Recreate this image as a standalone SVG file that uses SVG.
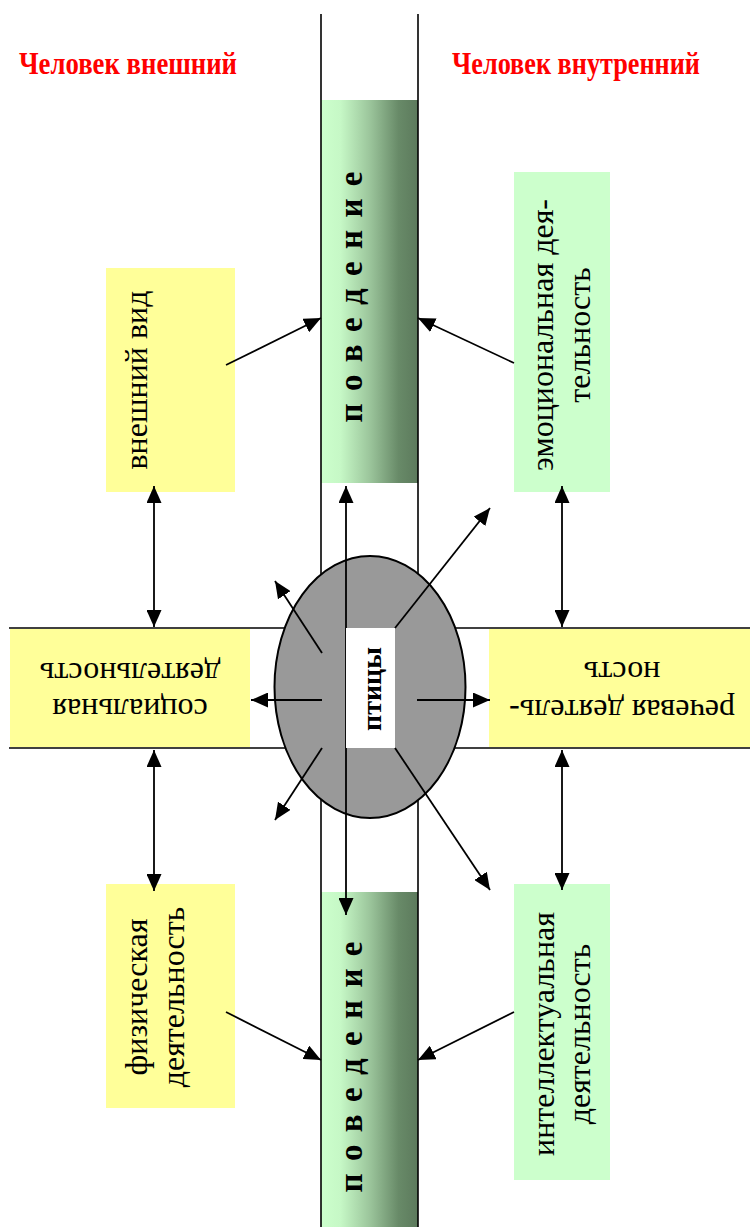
<svg xmlns="http://www.w3.org/2000/svg" width="750" height="1227" viewBox="0 0 750 1227">
<defs>
<linearGradient id="barGrad" x1="0" y1="0" x2="1" y2="0">
<stop offset="0" stop-color="#ccffcc"/>
<stop offset="0.2" stop-color="#c6f8c6"/>
<stop offset="0.5" stop-color="#9cc69c"/>
<stop offset="0.8" stop-color="#688a68"/>
<stop offset="1" stop-color="#5c7a5c"/>
</linearGradient>
<marker id="ah" viewBox="0 0 17 15" refX="17" refY="7.5" markerWidth="17" markerHeight="15" markerUnits="userSpaceOnUse" orient="auto-start-reverse">
<path d="M0,0 L17,7.5 L0,15 Z" fill="#000"/>
</marker>
</defs>
<style>
.ln{stroke:#000;stroke-width:1.6;fill:none}
.ar{stroke:#000;stroke-width:1.8;fill:none;marker-end:url(#ah)}
.ar2{stroke:#000;stroke-width:1.8;fill:none;marker-start:url(#ah);marker-end:url(#ah)}
.title{font-family:"Liberation Serif","DejaVu Serif",serif;font-weight:bold;font-size:31px;fill:#ff0000}
.lbl{font-family:"Liberation Serif","DejaVu Serif",serif;font-size:32px;fill:#000}
.bar{font-family:"Liberation Serif","DejaVu Serif",serif;font-weight:bold;font-size:33px;fill:#000}
.yel{fill:#ffff99}
.grn{fill:#ccffcc}
</style>
<rect width="750" height="1227" fill="#fff"/>

<g id="title-outer"><text class="title" x="19" y="74" textLength="218" lengthAdjust="spacingAndGlyphs">Человек внешний</text></g>
<g id="title-inner"><text class="title" x="452" y="74" textLength="248" lengthAdjust="spacingAndGlyphs">Человек внутренний</text></g>

<g id="behavior-top">
<rect x="321" y="100" width="97" height="383" fill="url(#barGrad)"/>
<text class="bar" transform="translate(362,297) rotate(-90)" text-anchor="middle" textLength="251" lengthAdjust="spacing">п о в е д е н и е</text>
</g>
<g id="behavior-bottom">
<rect x="321" y="892" width="97" height="335" fill="url(#barGrad)"/>
<text class="bar" transform="translate(362,1067) rotate(-90)" text-anchor="middle" textLength="251" lengthAdjust="spacing">п о в е д е н и е</text>
</g>

<g id="guides">
<line class="ln" x1="321" y1="14" x2="321" y2="1227"/>
<line class="ln" x1="418" y1="14" x2="418" y2="1227"/>
<line class="ln" x1="9" y1="628" x2="750" y2="628"/>
<line class="ln" x1="9" y1="748" x2="750" y2="748"/>
</g>

<g id="appearance">
<rect class="yel" x="106" y="268" width="129" height="224"/>
<text class="lbl" transform="translate(147,380) rotate(-90)" text-anchor="middle">внешний вид</text>
</g>
<g id="emotional">
<rect class="grn" x="514" y="172" width="96" height="320"/>
<text class="lbl" transform="translate(553,335) rotate(-90)" text-anchor="middle">эмоциональная дея-</text>
<text class="lbl" transform="translate(590,335) rotate(-90)" text-anchor="middle">тельность</text>
</g>
<g id="physical">
<rect class="yel" x="106" y="884" width="129" height="224"/>
<text class="lbl" transform="translate(147,997) rotate(-90)" text-anchor="middle">физическая</text>
<text class="lbl" transform="translate(184,997) rotate(-90)" text-anchor="middle">деятельность</text>
</g>
<g id="intellectual">
<rect class="grn" x="514" y="884" width="96" height="296"/>
<text class="lbl" transform="translate(554,1034) rotate(-90)" text-anchor="middle">интеллектуальная</text>
<text class="lbl" transform="translate(590,1034) rotate(-90)" text-anchor="middle">деятельность</text>
</g>
<g id="social">
<rect class="yel" x="10" y="629" width="240" height="118"/>
<g transform="rotate(180 130 688)">
<text class="lbl" x="130" y="677" text-anchor="middle">социальная</text>
<text class="lbl" x="130" y="713" text-anchor="middle">деятельность</text>
</g>
</g>
<g id="speech">
<rect class="yel" x="489" y="629" width="261" height="118"/>
<g transform="rotate(180 622 688)">
<text class="lbl" x="622" y="676" text-anchor="middle">речевая деятель-</text>
<text class="lbl" x="622" y="714" text-anchor="middle">ность</text>
</g>
</g>

<g id="birds-ellipse">
<ellipse cx="370" cy="687" rx="95.5" ry="131" fill="#999999" stroke="#000" stroke-width="2"/>
</g>

<g id="connectors">
<line class="ar2" x1="154" y1="486" x2="154" y2="627"/>
<line class="ar2" x1="154" y1="750" x2="154" y2="891"/>
<line class="ar2" x1="562" y1="486" x2="562" y2="627"/>
<line class="ar2" x1="562" y1="750" x2="562" y2="890"/>
<line class="ar" x1="226" y1="365" x2="321" y2="318"/>
<line class="ar" x1="514" y1="363" x2="418" y2="318"/>
<line class="ar" x1="226" y1="1012" x2="321" y2="1060"/>
<line class="ar" x1="514" y1="1012" x2="418" y2="1060"/>
<line class="ar2" x1="346" y1="486" x2="346" y2="915"/>
<line class="ar" x1="322" y1="653" x2="275" y2="581"/>
<line class="ar" x1="322" y1="700" x2="251" y2="700"/>
<line class="ar" x1="322" y1="748" x2="275" y2="820"/>
<line class="ar" x1="395" y1="628" x2="490" y2="508"/>
<line class="ar" x1="417" y1="700" x2="490" y2="700"/>
<line class="ar" x1="395" y1="748" x2="490" y2="890"/>
</g>

<g id="birds">
<rect x="346" y="628" width="49" height="120" fill="#fff"/>
<text class="bar" transform="translate(381,689) rotate(-90)" text-anchor="middle" style="font-size:28px">птицы</text>
</g>
</svg>
